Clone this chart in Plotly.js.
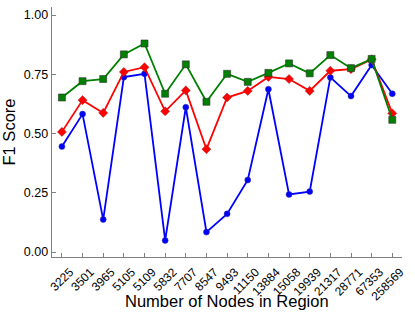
<!DOCTYPE html>
<html>
<head>
<meta charset="utf-8">
<script src="https://cdn.plot.ly/plotly-3.0.1.min.js"></script>
<style>html,body{margin:0;padding:0;background:#fff;}#chart{width:415px;height:312px;}</style>
</head>
<body>
<div id="chart"></div>
<script>
const categories = ["3225","3501","3965","5105","5109","5832","7707","8547","9493","11150","13884","15058","19939","21317","28771","67353","258569"];
const greenValues = [0.652,0.721,0.730,0.834,0.880,0.668,0.792,0.634,0.752,0.718,0.756,0.796,0.754,0.831,0.776,0.815,0.558];
const redValues = [0.507,0.641,0.587,0.760,0.780,0.594,0.682,0.434,0.652,0.680,0.739,0.730,0.680,0.765,0.772,0.813,0.585];
const blueValues = [0.445,0.582,0.137,0.738,0.752,0.049,0.611,0.084,0.161,0.304,0.687,0.243,0.255,0.737,0.658,0.789,0.668];
const yTicks = [0, 0.25, 0.5, 0.75, 1.0];
const yTickText = ["0.00","0.25","0.50","0.75","1.00"];
const xTitle = 'Number of Nodes in Region';

const traces = [
  {x: categories, y: blueValues, type: 'scatter', mode: 'lines+markers',
   line: {color: '#0000ff', width: 1.8},
   marker: {symbol: 'circle', size: 6, color: '#0000ff', line: {color: '#333399', width: 0.5}}},
  {x: categories, y: redValues, type: 'scatter', mode: 'lines+markers',
   line: {color: '#ff0000', width: 1.8},
   marker: {symbol: 'diamond', size: 7, color: '#ff0000', line: {color: '#993333', width: 0.5}}},
  {x: categories, y: greenValues, type: 'scatter', mode: 'lines+markers',
   line: {color: '#008000', width: 1.8},
   marker: {symbol: 'square', size: 7, color: '#008000', line: {color: '#333333', width: 0.6}}}
];

const layout = {
  width: 415, height: 312,
  margin: {l: 52, r: 13, t: 7, b: 55},
  showlegend: false,
  paper_bgcolor: '#ffffff', plot_bgcolor: '#ffffff',
  font: {family: 'Arial, "Liberation Sans", sans-serif', color: '#000', size: 12},
  xaxis: {
    type: 'category', range: [-0.48, 16.47],
    showgrid: false, zeroline: false,
    showline: true, linecolor: '#808080', linewidth: 1.3,
    ticks: 'inside', ticklen: 4, tickcolor: '#808080', tickwidth: 1,
    tickangle: -45, tickfont: {size: 12}, ticklabelshift: 8, ticklabelstandoff: 2
  },
  yaxis: {
    range: [-0.021, 1.034],
    tickvals: yTicks, ticktext: yTickText,
    showgrid: false, zeroline: false,
    showline: true, linecolor: '#808080', linewidth: 1.3,
    ticks: 'inside', ticklen: 4, tickcolor: '#808080', tickwidth: 1,
    tickfont: {size: 12.5},
    title: {text: 'F1 Score', font: {size: 16.5}, standoff: 9}
  },
  annotations: [{
    text: xTitle, xref: 'paper', yref: 'paper', x: 0.5, y: -0.136,
    xanchor: 'center', yanchor: 'top', showarrow: false, borderpad: 0,
    font: {size: 16.5, color: '#000'}
  }]
};

Plotly.newPlot('chart', traces, layout, {displayModeBar: false, staticPlot: true});
</script>
</body>
</html>
